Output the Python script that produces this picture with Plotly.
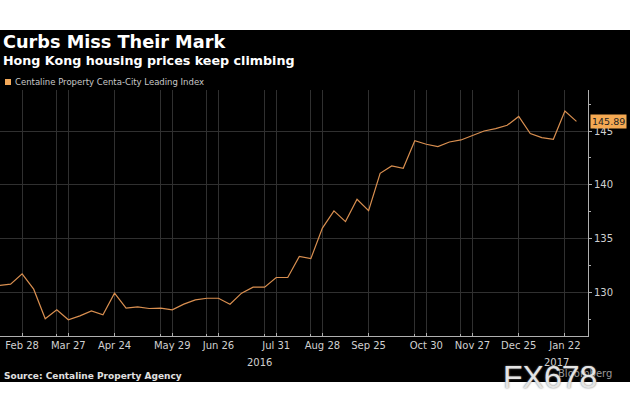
import pandas as pd
import plotly.graph_objects as go

# weekly Centa-City Leading Index readings
start_date = "2016-02-14"
cci_values = [
    130.68, 130.80, 131.76, 130.34, 127.60, 128.43, 127.50, 127.87, 128.33, 127.96,
    129.97, 128.58, 128.70, 128.55, 128.58, 128.43, 128.95, 129.35, 129.50, 129.50,
    128.95, 129.97, 130.53, 130.53, 131.42, 131.42, 133.38, 133.17, 136.00, 137.60,
    136.60, 138.67, 137.62, 141.08, 141.76, 141.54, 144.10, 143.77, 143.56, 143.98,
    144.17, 144.60, 145.00, 145.22, 145.53, 146.35, 144.76, 144.39, 144.23, 146.85,
    145.89,
]
dates = pd.date_range(start_date, periods=len(cci_values), freq="7D")

tick_dates = ["2016-02-28", "2016-03-27", "2016-04-24", "2016-05-29", "2016-06-26",
              "2016-07-31", "2016-08-28", "2016-09-25", "2016-10-30", "2016-11-27",
              "2016-12-25", "2017-01-22"]
tick_labels = ["Feb 28", "Mar 27", "Apr 24", "May 29", "Jun 26", "Jul 31",
               "Aug 28", "Sep 25", "Oct 30", "Nov 27", "Dec 25", "Jan 22"]
extra_grid_dates = ["2016-03-20", "2016-05-22", "2016-06-19", "2016-07-24",
                    "2016-08-21", "2016-10-23", "2016-11-20"]
year_labels = ["2016", "2017"]
year_label_dates = ["2016-07-21", "2017-01-17"]

W, H = 630, 414
ORANGE = "#d98f50"
GRID = "#303030"
AXIS = "#b0b0b0"
FONT = "DejaVu Sans"


def px(x):
    return x / W


def py(y):
    return 1 - y / H


fig = go.Figure(go.Scatter(
    x=dates, y=cci_values, mode="lines",
    line=dict(color=ORANGE, width=1.2),
    hoverinfo="x+y",
))

fig.update_layout(
    width=W, height=H,
    paper_bgcolor="white",
    plot_bgcolor="black",
    margin=dict(t=0, b=0, l=0, r=0, autoexpand=False),
    showlegend=False,
    font=dict(family=FONT, color="#d0d0d0", size=10),
    xaxis=dict(
        type="date",
        automargin=False,
        domain=[0, px(588)],
        range=["2016-02-14 14:00", "2017-02-05"],
        tickvals=tick_dates, ticktext=tick_labels,
        tickfont=dict(size=10, color="#d0d0d0"),
        showgrid=True, gridcolor=GRID, gridwidth=1,
        showline=True, linecolor=AXIS, linewidth=1,
        ticks="inside", ticklen=3, tickcolor=AXIS,
        minor=dict(tickvals=extra_grid_dates, showgrid=True, gridcolor=GRID,
                   ticks="inside", ticklen=2, tickcolor=AXIS),
        zeroline=False,
    ),
    yaxis=dict(
        automargin=False,
        domain=[py(336), py(90)],
        range=[126.0, 148.8],
        side="right",
        tickvals=[130, 135, 140, 145],
        tickfont=dict(size=10, color="#d0d0d0"),
        showgrid=True, gridcolor=GRID, gridwidth=1,
        showline=True, linecolor=AXIS, linewidth=1,
        ticks="outside", ticklen=3, tickcolor=AXIS,
        minor=dict(dtick=2.5, tick0=0, ticks="outside", ticklen=2,
                   tickcolor=AXIS, showgrid=False),
        zeroline=False,
    ),
)

# black panel behind everything
fig.add_shape(type="rect", xref="paper", yref="paper",
              x0=0, x1=1, y0=py(382), y1=py(30),
              fillcolor="black", line_width=0, layer="below")
# legend swatch
fig.add_shape(type="rect", xref="paper", yref="paper",
              x0=px(5), x1=px(11), y0=py(85), y1=py(79),
              fillcolor="#f3a95a", line_width=0)

fig.add_annotation(text="<b>Curbs Miss Their Mark</b>", xref="paper", yref="paper",
                   x=px(1), y=py(42), xanchor="left", yanchor="middle", showarrow=False,
                   font=dict(size=17.7, color="white", family=FONT))
fig.add_annotation(text="<b>Hong Kong housing prices keep climbing</b>", xref="paper", yref="paper",
                   x=px(1), y=py(61), xanchor="left", yanchor="middle", showarrow=False,
                   font=dict(size=12.7, color="white", family=FONT))
fig.add_annotation(text="Centaline Property Centa-City Leading Index", xref="paper", yref="paper",
                   x=px(13), y=py(82), xanchor="left", yanchor="middle", showarrow=False,
                   font=dict(size=8.5, color="#c8c8c8", family=FONT))
fig.add_annotation(text="<b>Source: Centaline Property Agency</b>", xref="paper", yref="paper",
                   x=px(2), y=py(376), xanchor="left", yanchor="middle", showarrow=False,
                   font=dict(size=9, color="#e0e0e0", family=FONT))

for label, d in zip(year_labels, year_label_dates):
    fig.add_annotation(text=label, x=d, xref="x", yref="paper", y=py(362),
                       xanchor="center", yanchor="middle", showarrow=False,
                       font=dict(size=10, color="#d0d0d0", family=FONT))

# last value tag
fig.add_annotation(text=f"{cci_values[-1]:.2f}", xref="paper", yref="y",
                   x=px(590), y=cci_values[-1], xanchor="left", yanchor="middle",
                   showarrow=False, bgcolor="#f5a953", borderpad=1,
                   font=dict(size=9.5, color="#222", family=FONT))

fig.add_annotation(text="Bloomberg", xref="paper", yref="paper",
                   x=px(614), y=py(373), xanchor="right", yanchor="middle", showarrow=False,
                   font=dict(size=10, color="#9a9a9a", family=FONT))
fig.add_annotation(text="FX678", xref="paper", yref="paper",
                   x=px(550), y=py(377), xanchor="center", yanchor="middle", showarrow=False,
                   font=dict(size=32, color="#e4e4e4", family="Liberation Sans",
                             shadow="0 0 2px #777"))

fig.write_html("out.html", config={"displayModeBar": False},
               post_script="document.body.style.margin='0';")
